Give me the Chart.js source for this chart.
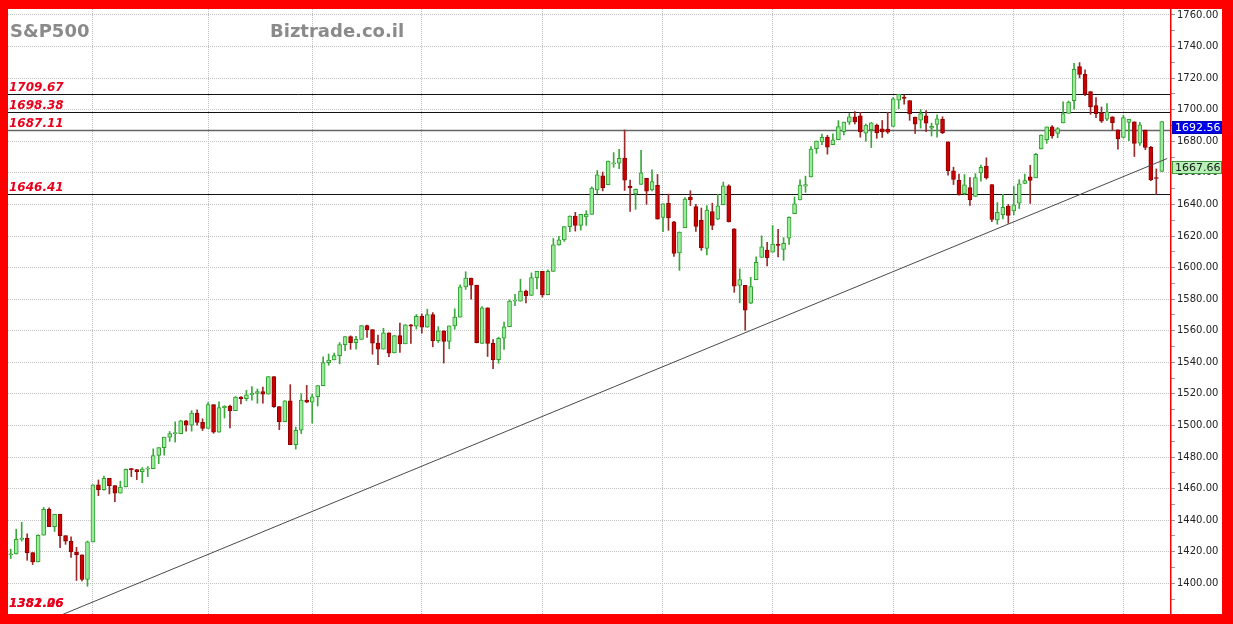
<!DOCTYPE html>
<html>
<head>
<meta charset="utf-8">
<script src="https://cdn.jsdelivr.net/npm/chart.js@4/dist/chart.umd.min.js"></script>
<style>
  html, body { margin: 0; padding: 0; background: #ff0000; }
  #wrap { width: 1233px; height: 624px; position: relative; }
</style>
</head>
<body>
<div id="wrap"><canvas id="c"></canvas></div>
<script>
// S&P500 daily candles, Dec 2012 - Oct 2013

const sessionDays = [
  ['2012-12', [10,11,12,13,14,17,18,19,20,21,24,26,27,28,31]],
  ['2013-01', [2,3,4,7,8,9,10,11,14,15,16,17,18,22,23,24,25,28,29,30,31]],
  ['2013-02', [1,4,5,6,7,8,11,12,13,14,15,19,20,21,22,25,26,27,28]],
  ['2013-03', [1,4,5,6,7,8,11,12,13,14,15,18,19,20,21,22,25,26,27,28]],
  ['2013-04', [1,2,3,4,5,8,9,10,11,12,15,16,17,18,19,22,23,24,25,26,29,30]],
  ['2013-05', [1,2,3,6,7,8,9,10,13,14,15,16,17,20,21,22,23,24,28,29,30,31]],
  ['2013-06', [3,4,5,6,7,10,11,12,13,14,17,18,19,20,21,24,25,26,27,28]],
  ['2013-07', [1,2,3,5,8,9,10,11,12,15,16,17,18,19,22,23,24,25,26,29,30,31]],
  ['2013-08', [1,2,5,6,7,8,9,12,13,14,15,16,19,20,21,22,23,26,27,28,29,30]],
  ['2013-09', [3,4,5,6,9,10,11,12,13,16,17,18,19,20,23,24,25,26,27,30]],
  ['2013-10', [1,2,3,4,7,8,9,10]]
];

const opens = [
  1418.07,1418.55,1427.84,1428.48,1419.45,1413.54,1430.47,1446.79,1435.81,1443.67,1430.15,1426.66,1419.83,1418.10,1402.43,
  1426.19,1462.42,1459.37,1466.47,1461.89,1457.15,1461.02,1472.12,1472.05,1470.67,1472.33,1472.63,1480.95,1485.98,1492.56,1494.81,1494.82,1502.96,1500.18,1507.84,1501.96,
  1498.11,1513.17,1495.71,1511.29,1512.12,1509.39,1517.93,1517.01,1519.43,1520.33,1521.38,1519.79,1530.94,1511.95,1502.42,1515.60,1487.85,1496.94,1515.99,
  1514.68,1518.20,1525.20,1539.79,1541.46,1544.26,1551.15,1556.22,1552.48,1554.52,1563.21,1560.70,1552.10,1548.34,1558.71,1545.90,1556.89,1551.69,1563.75,1562.86,
  1569.18,1562.17,1570.25,1553.69,1559.98,1553.26,1563.11,1568.61,1587.73,1593.30,1588.84,1552.01,1574.57,1552.03,1541.61,1555.25,1562.50,1578.78,1578.78,1585.16,1582.34,1593.58,
  1597.55,1582.77,1597.60,1614.40,1617.55,1625.95,1632.69,1626.69,1632.10,1633.75,1649.13,1658.07,1652.45,1665.71,1666.20,1669.39,1651.62,1646.67,1652.63,1656.57,1649.14,1652.13,
  1631.71,1640.73,1629.05,1609.29,1625.27,1644.67,1638.64,1629.94,1612.15,1635.52,1630.64,1639.77,1651.83,1624.62,1588.62,1588.77,1577.52,1592.27,1606.44,1611.12,
  1609.78,1614.29,1611.48,1618.65,1634.20,1642.89,1651.56,1657.41,1675.26,1679.59,1682.70,1677.91,1681.05,1686.15,1692.09,1695.53,1696.06,1685.21,1687.31,1690.32,1687.92,1687.76,
  1689.42,1706.10,1708.01,1705.79,1695.30,1693.35,1696.10,1688.37,1690.65,1693.88,1679.61,1661.22,1655.25,1646.81,1650.66,1645.03,1659.92,1664.29,1652.54,1630.25,1633.50,1638.89,
  1635.95,1640.72,1653.28,1657.44,1656.85,1675.11,1681.04,1689.21,1685.04,1691.70,1697.73,1705.74,1727.34,1722.44,1711.44,1702.60,1698.02,1694.05,1695.52,1687.26,
  1682.41,1691.90,1692.35,1678.79,1687.15,1676.22,1656.99,1660.88
];
const highs = [
  1421.64,1434.27,1438.59,1431.36,1419.45,1430.67,1448.00,1447.75,1443.70,1443.67,1430.15,1429.42,1422.80,1418.10,1426.74,
  1462.43,1465.47,1467.94,1466.47,1461.89,1464.73,1472.30,1472.75,1472.05,1473.31,1473.96,1485.16,1485.98,1492.56,1496.13,1502.27,1503.26,1503.23,1509.35,1509.94,1504.19,
  1514.41,1513.17,1514.96,1512.53,1512.90,1518.31,1518.31,1522.29,1524.69,1523.14,1524.24,1530.94,1530.94,1511.95,1515.64,1525.84,1498.99,1520.08,1525.34,
  1519.99,1525.27,1543.47,1545.25,1545.78,1552.48,1556.27,1556.77,1556.39,1563.32,1563.62,1560.70,1557.25,1561.56,1558.71,1556.89,1564.91,1563.95,1564.07,1570.28,
  1570.57,1573.66,1571.47,1562.60,1559.98,1563.07,1573.89,1589.07,1597.35,1593.30,1588.84,1575.35,1574.57,1554.38,1555.89,1565.55,1579.58,1583.00,1592.64,1585.78,1596.65,1597.57,
  1597.55,1598.60,1618.46,1619.77,1626.03,1632.78,1635.01,1633.70,1636.00,1651.10,1661.49,1660.51,1667.47,1672.84,1674.93,1687.18,1655.50,1649.78,1674.21,1656.57,1661.91,1658.99,
  1640.42,1646.53,1629.31,1622.56,1644.40,1648.69,1640.13,1637.71,1639.25,1640.80,1646.50,1654.19,1652.45,1624.62,1599.19,1588.77,1593.79,1606.83,1620.07,1615.94,
  1626.61,1624.26,1618.97,1632.07,1644.68,1655.61,1657.92,1676.63,1680.19,1684.51,1683.73,1684.75,1693.12,1692.09,1697.61,1698.78,1698.38,1690.94,1691.85,1690.92,1693.19,1698.43,
  1707.85,1709.67,1709.24,1705.79,1695.30,1700.18,1699.42,1691.49,1696.81,1695.52,1679.61,1663.60,1659.18,1658.92,1656.99,1659.55,1664.85,1669.51,1652.54,1641.18,1646.41,1640.08,
  1651.35,1655.72,1659.17,1664.83,1672.40,1684.09,1689.13,1689.97,1688.73,1704.95,1705.52,1729.44,1729.86,1725.23,1711.44,1707.63,1701.71,1703.85,1695.52,1687.26,
  1696.55,1693.87,1692.35,1691.94,1687.15,1676.79,1662.47,1692.56
];
const lows = [
  1415.64,1418.55,1426.76,1414.58,1411.88,1413.54,1430.47,1435.80,1432.82,1422.58,1424.66,1416.43,1401.80,1401.58,1398.11,
  1426.19,1455.53,1458.99,1456.62,1451.64,1457.15,1461.02,1467.58,1465.69,1463.76,1467.60,1472.63,1475.81,1481.16,1489.90,1489.46,1494.82,1496.33,1496.38,1500.11,1496.76,
  1498.11,1495.02,1495.71,1504.71,1498.49,1509.39,1513.61,1515.61,1515.93,1514.02,1514.14,1519.79,1511.41,1497.29,1502.42,1487.85,1485.01,1494.88,1514.46,
  1501.48,1512.29,1525.20,1538.11,1541.46,1539.07,1547.36,1548.24,1548.25,1554.52,1555.74,1545.13,1538.57,1548.34,1543.55,1545.90,1546.22,1551.69,1551.90,1561.08,
  1558.47,1562.17,1549.80,1552.52,1539.50,1548.63,1560.92,1568.61,1586.17,1579.97,1552.28,1552.01,1543.69,1536.03,1539.40,1548.19,1562.50,1575.80,1578.78,1577.56,1582.34,1586.50,
  1581.28,1582.77,1597.60,1614.21,1616.64,1622.70,1623.09,1623.71,1626.74,1633.75,1646.68,1648.60,1652.45,1663.52,1662.67,1648.86,1635.53,1636.88,1652.63,1640.05,1648.61,1630.74,
  1622.72,1623.62,1607.09,1598.23,1625.27,1639.26,1622.92,1610.92,1608.07,1623.96,1630.34,1639.77,1628.91,1584.32,1577.70,1560.33,1577.09,1592.27,1606.44,1601.06,
  1609.78,1606.77,1604.57,1614.71,1634.20,1642.89,1647.66,1657.41,1672.33,1677.89,1671.84,1677.91,1681.05,1684.08,1690.67,1691.08,1682.57,1680.07,1676.03,1681.86,1682.42,1684.94,
  1689.42,1700.68,1703.55,1693.29,1684.91,1688.38,1686.02,1683.35,1682.62,1684.83,1658.59,1652.61,1645.84,1646.08,1639.43,1645.03,1654.81,1656.02,1629.05,1627.47,1630.88,1628.05,
  1633.41,1637.41,1653.07,1640.62,1656.85,1675.11,1678.70,1681.96,1682.22,1691.70,1697.73,1700.35,1720.20,1708.89,1697.10,1694.90,1691.88,1693.11,1687.11,1674.99,
  1682.07,1680.34,1670.36,1677.33,1674.70,1655.03,1646.47,1660.88
];
const closes = [
  1418.55,1427.84,1428.48,1419.45,1413.58,1430.36,1446.79,1435.81,1443.69,1430.15,1426.66,1419.83,1418.10,1402.43,1426.19,
  1462.42,1459.37,1466.47,1461.89,1457.15,1461.02,1472.12,1472.05,1470.68,1472.34,1472.63,1480.94,1485.98,1492.56,1494.81,1494.82,1502.96,1500.18,1507.84,1501.96,1498.11,
  1513.17,1495.71,1511.29,1512.12,1509.39,1517.93,1517.01,1519.43,1520.33,1521.38,1519.79,1530.94,1511.95,1502.42,1515.60,1487.85,1496.94,1515.99,1514.68,
  1518.20,1525.20,1539.79,1541.46,1544.26,1551.18,1556.22,1552.48,1554.52,1563.23,1560.70,1552.10,1548.34,1558.71,1545.80,1556.89,1551.69,1563.77,1562.85,1569.19,
  1562.17,1570.25,1553.69,1559.98,1553.28,1563.07,1568.61,1587.73,1593.37,1588.85,1552.36,1574.57,1552.01,1541.61,1555.25,1562.50,1578.78,1578.79,1585.16,1582.24,1593.61,1597.57,
  1582.70,1597.59,1614.42,1617.50,1625.96,1632.69,1626.67,1633.70,1633.77,1650.34,1658.78,1650.47,1667.47,1666.29,1669.16,1655.35,1650.51,1649.60,1660.06,1648.36,1654.41,1630.74,
  1640.42,1631.38,1608.90,1622.56,1643.38,1642.81,1626.13,1612.52,1636.36,1626.73,1639.04,1651.81,1628.93,1588.19,1592.43,1573.09,1588.03,1603.26,1613.20,1606.28,
  1614.96,1614.08,1615.41,1631.89,1640.46,1652.32,1652.62,1675.02,1680.19,1682.50,1676.26,1680.91,1689.37,1692.09,1695.53,1692.39,1685.94,1690.25,1691.65,1685.33,1685.96,1685.73,
  1706.87,1709.67,1707.14,1697.37,1690.91,1697.48,1691.42,1689.47,1694.16,1685.39,1661.32,1655.83,1646.06,1652.35,1642.80,1656.96,1663.50,1656.78,1630.48,1634.96,1638.17,1632.97,
  1639.77,1653.08,1655.08,1655.17,1671.71,1683.99,1689.13,1683.42,1687.99,1697.60,1704.76,1725.52,1722.34,1709.91,1701.84,1697.42,1692.77,1698.67,1691.75,1681.55,
  1695.00,1693.87,1678.66,1690.50,1676.12,1655.45,1656.40,1692.56
];

// horizontal levels drawn on the chart
const levels = [1709.67, 1698.38, 1687.11, 1646.41];
const levelColors = ['#111', '#111', '#666', '#111'];
const bottomLabels = ['1382.26', '1381.06'];

// trend line end points (first and one-past-last slot)
const trendValues = [1366.7, 1669.1];
const trendLabel = 1667.66;
const lastClose = 1692.56;

const labels = [];
sessionDays.forEach(([m, days]) => days.forEach(d => labels.push(m + '-' + String(d).padStart(2, '0'))));
labels.push('');   // empty slot on the right

const up = opens.map((o, i) => closes[i] >= o);
const trendData = labels.map((_, i) => i === 0 ? trendValues[0] : (i === labels.length - 1 ? trendValues[1] : null));
const isMonthStart = i => i > 0 && labels[i] !== '' && labels[i].slice(0, 7) !== labels[i - 1].slice(0, 7);

const overlay = {
    id: 'overlay',
    beforeDraw(chart) {
        const c = chart.ctx;
        c.save();
        c.fillStyle = '#ff0000';
        c.fillRect(0, 0, chart.width, chart.height);
        c.fillStyle = '#fff';
        c.fillRect(8, 9, 1214, 605);
        c.restore();
    },
    beforeDatasetsDraw(chart) {
        const c = chart.ctx, a = chart.chartArea, y = chart.scales.y;
        c.save();
        c.font = 'bold 18px "DejaVu Sans"';
        c.fillStyle = '#8a8a8a';
        c.textBaseline = 'alphabetic';
        c.fillText('S&P500', 10, 37);
        c.fillText('Biztrade.co.il', 270, 37);
        c.font = 'italic bold 12px "DejaVu Sans"';
        levels.forEach((v, k) => {
            const py = Math.round(y.getPixelForValue(v)) + 0.5;
            c.strokeStyle = levelColors[k];
            c.lineWidth = k === 2 ? 1.5 : 1;
            c.beginPath(); c.moveTo(a.left, py); c.lineTo(a.right, py); c.stroke();
            c.fillStyle = '#e8001c';
            c.fillText(v.toFixed(2), 9, py - 4);
        });
        bottomLabels.forEach(t => c.fillText(t, 9, a.bottom - 7));
        c.restore();
    },
    afterDraw(chart) {
        const c = chart.ctx, a = chart.chartArea, y = chart.scales.y;
        c.save();
        // solid red axis line
        c.strokeStyle = '#ff0000';
        c.lineWidth = 1.5;
        c.beginPath(); c.moveTo(a.right + 0.75, a.top); c.lineTo(a.right + 0.75, a.bottom); c.stroke();
        const box = (v, bg, border, fg) => {
            const top = Math.round(y.getPixelForValue(v));
            c.fillStyle = bg;
            c.fillRect(a.right + 2, top, 50, 13);
            c.strokeStyle = border;
            c.lineWidth = 1;
            c.strokeRect(a.right + 2.5, top + 0.5, 49, 12);
            c.fillStyle = fg;
            c.font = '11px "DejaVu Sans"';
            c.textBaseline = 'middle';
            c.fillText(v.toFixed(2), a.right + 5, top + 7);
        };
        box(lastClose, '#0000e6', '#0000b0', '#fff');
        box(trendLabel, '#b6f2b6', '#3f9a3f', '#1a1a1a');
        c.restore();
    }
};

new Chart(document.getElementById('c').getContext('2d'), {
    data: {
        labels: labels,
        datasets: [
            {
                type: 'line', label: 'trend', data: trendData, spanGaps: true,
                borderColor: '#4a4a4a', borderWidth: 1, pointRadius: 0, order: 0
            },
            {
                type: 'bar', label: 'body', data: opens.map((o, i) => [o, closes[i]]),
                backgroundColor: up.map(u => u ? '#9aeb9a' : '#cc0000'),
                borderColor: up.map(u => u ? '#2f9e2f' : '#8e0000'),
                borderWidth: 1, borderSkipped: false, barThickness: 4, minBarLength: 1,
                grouped: false, order: 1
            },
            {
                type: 'bar', label: 'wick', data: lows.map((l, i) => [l, highs[i]]),
                backgroundColor: up.map(u => u ? '#3aa83a' : '#9b2a2a'),
                barThickness: 1, grouped: false, order: 2
            }
        ]
    },
    options: {
        responsive: true,
        maintainAspectRatio: false,
        animation: false,
        events: [],
        layout: { padding: { left: 8, top: 9, right: 11, bottom: 10 } },
        plugins: { legend: { display: false }, tooltip: { enabled: false } },
        scales: {
            x: {
                type: 'category', offset: true,
                ticks: { display: false, autoSkip: false },
                grid: { offset: false, drawTicks: false, color: ctx => isMonthStart(ctx.index) ? '#bdbdbd' : 'rgba(0,0,0,0)' },
                border: { display: false, dash: [1, 1] },
                afterFit: s => { s.height = 0; }
            },
            y: {
                position: 'right', min: 1380.55, max: 1763.8,
                afterBuildTicks: s => { s.ticks = s.ticks.filter(t => Math.abs(t.value / 10 - Math.round(t.value / 10)) < 1e-6); },
                afterFit: s => { s.width = 52; },
                ticks: {
                    stepSize: 10, maxTicksLimit: 100, includeBounds: false, autoSkip: false, padding: 2,
                    color: '#222', font: { family: 'DejaVu Sans', size: 10 },
                    callback: v => Math.round(v) % 20 === 0 ? v.toFixed(2) : ''
                },
                grid: {
                    color: ctx => ctx.tick && Math.round(ctx.tick.value) % 20 === 0 ? '#c4c4c4' : 'rgba(0,0,0,0)',
                    tickColor: '#999', tickLength: 5
                },
                border: { display: false, dash: [1, 1] }
            }
        }
    },
    plugins: [overlay]
});
</script>
</body>
</html>
